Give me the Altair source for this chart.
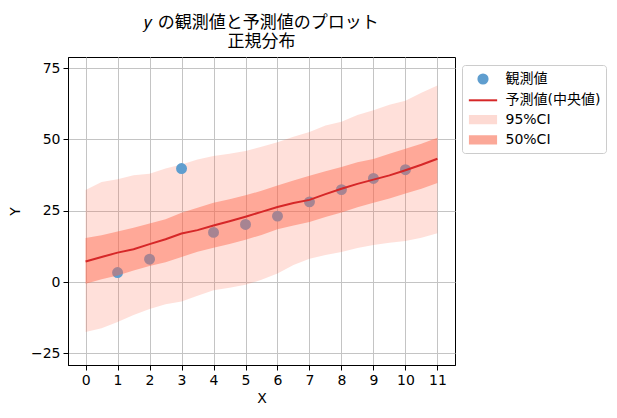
import altair as alt
import pandas as pd

# ---- data ----
grid_x = [0, 0.5, 1, 1.5, 2, 2.5, 3, 3.5, 4, 4.5, 5, 5.5, 6, 6.5, 7, 7.5, 8, 8.5, 9, 9.5, 10, 10.5, 11]
q975 = [32.3, 35.1, 36.0, 37.4, 38.0, 39.8, 41.2, 43.0, 44.2, 45.0, 45.9, 47.4, 49.0, 50.9, 52.6, 54.9, 56.2, 58.6, 60.2, 62.2, 63.6, 66.4, 68.9]
q025 = [-17.5, -16.2, -14.0, -11.6, -9.5, -7.8, -6.8, -4.8, -2.9, -2.0, -1.0, 0.8, 3.0, 6.0, 8.2, 9.5, 10.5, 11.9, 13.0, 13.8, 14.4, 15.5, 17.1]
q75 = [15.4, 16.4, 17.7, 19.0, 20.5, 22.0, 24.3, 26.0, 27.8, 29.0, 30.4, 32.0, 33.8, 35.6, 37.3, 38.8, 40.3, 42.0, 43.1, 45.0, 46.7, 48.5, 50.6]
q25 = [-0.6, 1.0, 2.3, 4.0, 5.6, 6.9, 8.8, 10.6, 12.0, 13.3, 14.8, 16.5, 18.5, 19.8, 21.0, 22.8, 24.4, 26.2, 27.8, 29.3, 31.0, 32.7, 34.7]
q50 = [7.2, 8.8, 10.3, 11.5, 13.3, 15.0, 17.0, 18.2, 19.8, 21.3, 22.9, 24.6, 26.3, 27.7, 28.8, 30.8, 32.7, 34.4, 35.9, 37.4, 39.2, 41.1, 43.2]

obs_x = [1, 2, 3, 4, 5, 6, 7, 8, 9, 10]
obs_y = [3.3, 8.0, 39.8, 17.4, 20.2, 23.1, 28.1, 32.4, 36.3, 39.4]

legend_labels = ["観測値", "予測値(中央値)", "95%CI", "50%CI"]
legend_colors = ["#5f9ecf", "#d62728", "#fddad3", "#fba898"]
x_ticks = list(range(12))
y_ticks = [-25, 0, 25, 50, 75]

FONT = "DejaVu Sans, Noto Sans CJK JP"

band = pd.DataFrame({"x": grid_x, "q975": q975, "q025": q025,
                     "q75": q75, "q25": q25, "q50": q50})
obs = pd.DataFrame({"x": obs_x, "y": obs_y, "series": legend_labels[0]})

xscale = alt.Scale(domain=[-0.55, 11.55], nice=False, zero=False)
yscale = alt.Scale(domain=[-29.1, 78.9], nice=False, zero=False)

xax = alt.Axis(values=x_ticks, format="d", title="X", grid=True, titlePadding=4,
               labelOverlap=False, tickCount=12)
yax = alt.Axis(values=y_ticks, format="d", title="Y", grid=True, titlePadding=8,
               labelOverlap=False)

shapes = [
    "M-0.65,0A0.65,0.65 0 1,0 0.65,0A0.65,0.65 0 1,0 -0.65,0Z",
    "M-2,0H2",
    "M-1.85,-0.5H1.85V0.5H-1.85Z",
    "M-1.85,-0.5H1.85V0.5H-1.85Z",
]

leg = alt.Legend(
    orient="none", legendX=394, legendY=8, title=None,
    symbolSize=200, symbolStrokeWidth=2, symbolOffset=7,
    labelFont=FONT, labelFontSize=14, labelColor="black", labelOffset=14,
    padding=5.5, rowPadding=3.3, strokeColor="#cccccc", cornerRadius=3,
    fillColor="white",
)

base = alt.Chart(band)

area95 = base.mark_area(color="#ff6347", opacity=0.2).encode(
    x=alt.X("x:Q", scale=xscale, axis=xax),
    y=alt.Y("q025:Q", scale=yscale, axis=yax),
    y2="q975:Q",
)

points = alt.Chart(obs).mark_point(filled=True, opacity=1, size=190).encode(
    x=alt.X("x:Q", scale=xscale, axis=xax),
    y=alt.Y("y:Q", scale=yscale, axis=yax),
    fill=alt.Fill("series:N", scale=alt.Scale(domain=legend_labels, range=legend_colors), legend=leg),
    stroke=alt.Stroke("series:N", scale=alt.Scale(domain=legend_labels, range=legend_colors), legend=leg),
    shape=alt.Shape("series:N", scale=alt.Scale(domain=legend_labels, range=shapes), legend=leg),
)

area50 = base.mark_area(color="#ff6347", opacity=0.45).encode(
    x=alt.X("x:Q", scale=xscale, axis=xax),
    y=alt.Y("q25:Q", scale=yscale, axis=yax),
    y2="q75:Q",
)

median = base.mark_line(color="#d62728", strokeWidth=2).encode(
    x=alt.X("x:Q", scale=xscale, axis=xax),
    y=alt.Y("q50:Q", scale=yscale, axis=yax),
)

chart = alt.layer(area95, points, area50, median).properties(
    width=387, height=308,
    title=alt.Title(["𝑦 の観測値と予測値のプロット", "正規分布"]),
    autosize=alt.AutoSizeParams(type="none"),
    padding={"left": 60, "top": 49, "right": 154, "bottom": 45},
).configure_view(
    stroke="black", strokeWidth=1,
).configure_axis(
    labelFont=FONT, labelFontSize=14, labelColor="black",
    titleFont=FONT, titleFontSize=14, titleColor="black", titleFontWeight="normal",
    tickColor="black", tickSize=5, tickWidth=1, labelPadding=3,
    domainColor="black", domainWidth=1,
    gridColor="#c4c4c4", gridWidth=1,
).configure_title(
    font=FONT, fontSize=17, fontWeight="normal", color="black",
    anchor="middle", offset=6, lineHeight=19,
)

chart.save("out.html", embed_options={"renderer": "svg", "actions": False})
